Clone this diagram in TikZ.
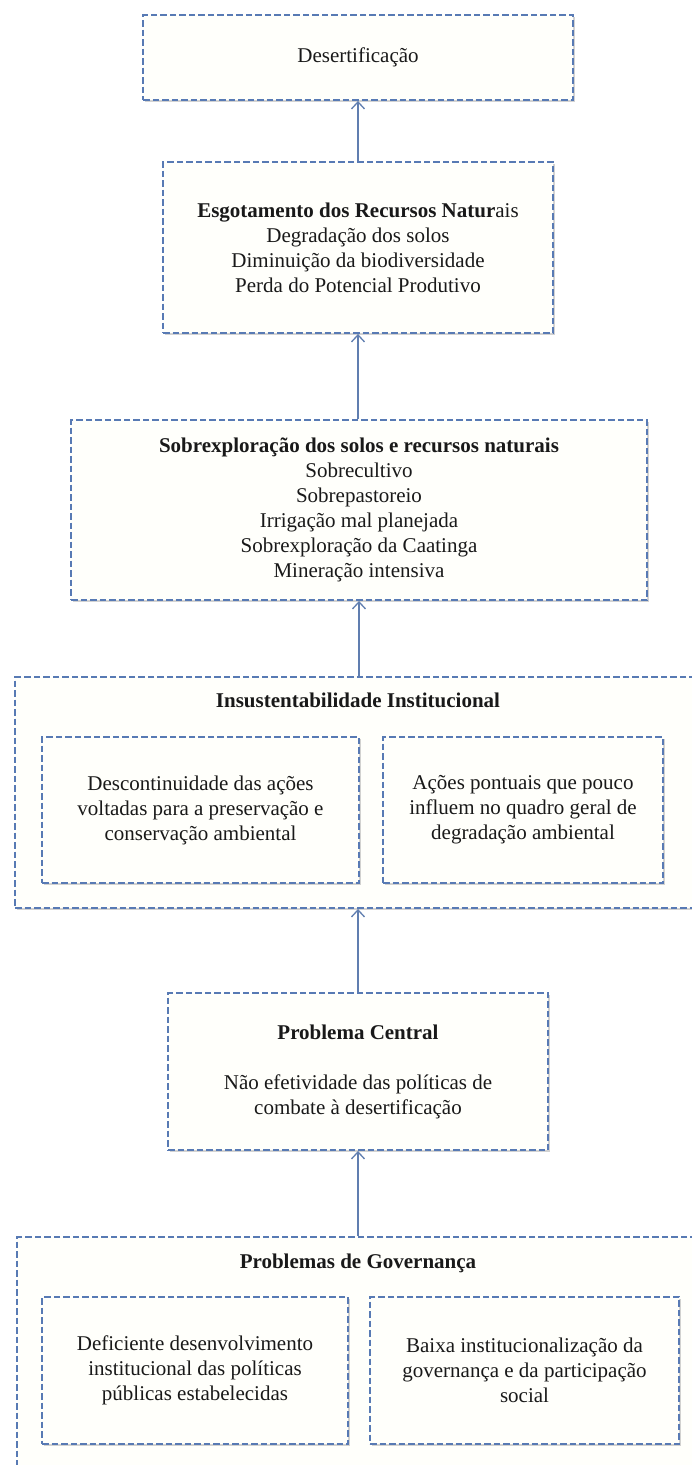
\documentclass[tikz,border=0pt]{standalone}
\usepackage{fontspec}
\setmainfont{Liberation Serif}
\usetikzlibrary{arrows.meta,shadows}
\definecolor{boxblue}{RGB}{88,122,180}
\definecolor{arrowblue}{RGB}{96,126,176}
\definecolor{boxfill}{RGB}{255,255,251}
\newcommand\boxfont{\fontsize{21}{25}\selectfont}
\begin{document}
\begin{tikzpicture}[x=1pt,y=-1pt,
  box/.style={draw=boxblue, line width=1.9pt, dash pattern=on 6.5pt off 3pt,
    fill=boxfill, drop shadow={opacity=0.35, shadow xshift=1.5pt, shadow yshift=-1.5pt},
    align=center, inner sep=0pt, font=\boxfont, text=black!90},
  titletext/.style={align=center, inner sep=0pt, font=\boxfont\bfseries, text=black!90},
  arr/.style={draw=arrowblue, line width=1.3pt, -{Straight Barb[length=7pt,width=13pt]}}
]
\useasboundingbox (0,0) rectangle (692,1465);
\fill[white] (0,0) rectangle (692,1465);

% level 1
\node[box, minimum width=430pt, minimum height=85pt] (b1) at (358,57.5) {Desertificação};

% level 2
\node[box, minimum width=390pt, minimum height=171pt] (b2) at (358,247.5)
  {\textbf{Esgotamento dos Recursos Natur}ais\\Degradação dos solos\\Diminuição da biodiversidade\\Perda do Potencial Produtivo};

% level 3
\node[box, minimum width=576pt, minimum height=180pt] (b3) at (359,510)
  {\textbf{Sobrexploração dos solos e recursos naturais}\\Sobrecultivo\\Sobrepastoreio\\Irrigação mal planejada\\Sobrexploração da Caatinga\\Mineração intensiva};

% level 4
\node[box, minimum width=695pt, minimum height=231pt] (b4) at (362.5,792.5) {};
\node[titletext] (t4) at (358,700) {Insustentabilidade Institucional};
\node[box, minimum width=317pt, minimum height=146pt] (b4l) at (200.5,810)
  {Descontinuidade das ações\\voltadas para a preservação e\\conservação ambiental};
\node[box, minimum width=280pt, minimum height=146pt] (b4r) at (523,810)
  {Ações pontuais que pouco\\influem no quadro geral de\\degradação ambiental};

% level 5
\node[box, minimum width=380pt, minimum height=157pt] (b5) at (358,1071.5)
  {\textbf{Problema Central}\\[25pt]Não efetividade das políticas de\\combate à desertificação};

% level 6
\node[box, minimum width=693pt, minimum height=253pt] (b6) at (363.5,1363.5) {};
\node[titletext] (t6) at (358,1263) {Problemas de Governança};
\node[box, minimum width=306pt, minimum height=147pt] (b6l) at (195,1370.5)
  {Deficiente desenvolvimento\\institucional das políticas\\públicas estabelecidas};
\node[box, minimum width=309pt, minimum height=147pt] (b6r) at (524.5,1370.5)
  {Baixa institucionalização da\\governança e da participação\\social};

% connectors
\draw[arr] (b1.south |- b2.north) -- (b1.south);
\draw[arr] (b2.south |- b3.north) -- (b2.south);
\draw[arr] (b3.south |- b4.north) -- (b3.south);
\draw[arr] (b5.north) -- (b5.north |- b4.south);
\draw[arr] (b5.south |- b6.north) -- (b5.south);
\end{tikzpicture}
\end{document}
